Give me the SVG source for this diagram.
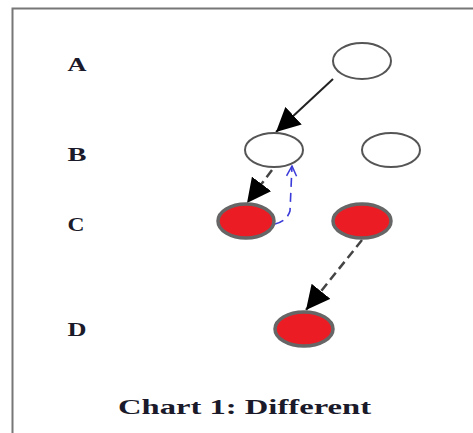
<svg xmlns="http://www.w3.org/2000/svg" width="473" height="433" viewBox="0 0 473 433">
<defs>
<style>
.lbl{font-family:"Liberation Serif","Times New Roman",serif;font-weight:bold;font-size:19px;fill:#1a1a2a}
.title{font-family:"Liberation Serif","Times New Roman",serif;font-weight:bold;font-size:22px;fill:#1a1a2a}
.white{fill:#fff;stroke:#555;stroke-width:2}
.red{fill:#ec1c24;stroke:#666;stroke-width:3.5}
.solid{stroke:#222;stroke-width:2;fill:none}
.dash{stroke:#444;stroke-width:2.5;fill:none;stroke-dasharray:9 5}
.blue{stroke:#3b3bd9;stroke-width:1.6;fill:none;stroke-dasharray:9 6}
</style>
<marker id="ah" markerUnits="userSpaceOnUse" markerWidth="24" markerHeight="24" viewBox="0 0 20 20" refX="20" refY="10" orient="auto">
<path d="M0,0 L20,10 L0,20 Z" fill="#000"/>
</marker>
<marker id="bh" markerUnits="userSpaceOnUse" markerWidth="12" markerHeight="12" viewBox="0 0 12 12" refX="11" refY="6" orient="auto">
<path d="M1,1 L11,6 L1,11" fill="none" stroke="#3b3bd9" stroke-width="1.5"/>
</marker>
</defs>
<rect width="473" height="433" fill="#fff"/>
<path d="M12.5,433 V8.5 H473" fill="none" stroke="#777" stroke-width="2"/>
<g id="labels">
<text class="lbl" x="77" y="71" text-anchor="middle" textLength="19" lengthAdjust="spacingAndGlyphs">A</text>
<text class="lbl" x="77" y="161" text-anchor="middle" textLength="19" lengthAdjust="spacingAndGlyphs">B</text>
<text class="lbl" x="76" y="231" text-anchor="middle" textLength="17" lengthAdjust="spacingAndGlyphs">C</text>
<text class="lbl" x="77" y="336" text-anchor="middle" textLength="19" lengthAdjust="spacingAndGlyphs">D</text>
</g>
<g id="connectors">
<line class="solid" x1="333" y1="79" x2="276" y2="132" marker-end="url(#ah)"/>
<line class="dash" x1="272" y1="170" x2="247" y2="203" marker-end="url(#ah)"/>
<line class="dash" x1="362" y1="240" x2="306" y2="310" marker-end="url(#ah)"/>
<path class="blue" d="M275,224 C284,222 288,217 290,211 L292,166" marker-end="url(#bh)"/>
</g>
<g id="nodeA1"><ellipse class="white" cx="362" cy="61" rx="29" ry="18"/></g>
<g id="nodeB1"><ellipse class="white" cx="274" cy="150" rx="29" ry="17"/></g>
<g id="nodeB2"><ellipse class="white" cx="391" cy="150" rx="29" ry="17"/></g>
<g id="nodeC1"><ellipse class="red" cx="246" cy="221" rx="28" ry="17"/></g>
<g id="nodeC2"><ellipse class="red" cx="362" cy="221" rx="29" ry="17"/></g>
<g id="nodeD1"><ellipse class="red" cx="304" cy="329" rx="29" ry="17"/></g>
<text class="title" x="244.5" y="414" text-anchor="middle" textLength="253" lengthAdjust="spacingAndGlyphs">Chart 1: Different</text>
</svg>
